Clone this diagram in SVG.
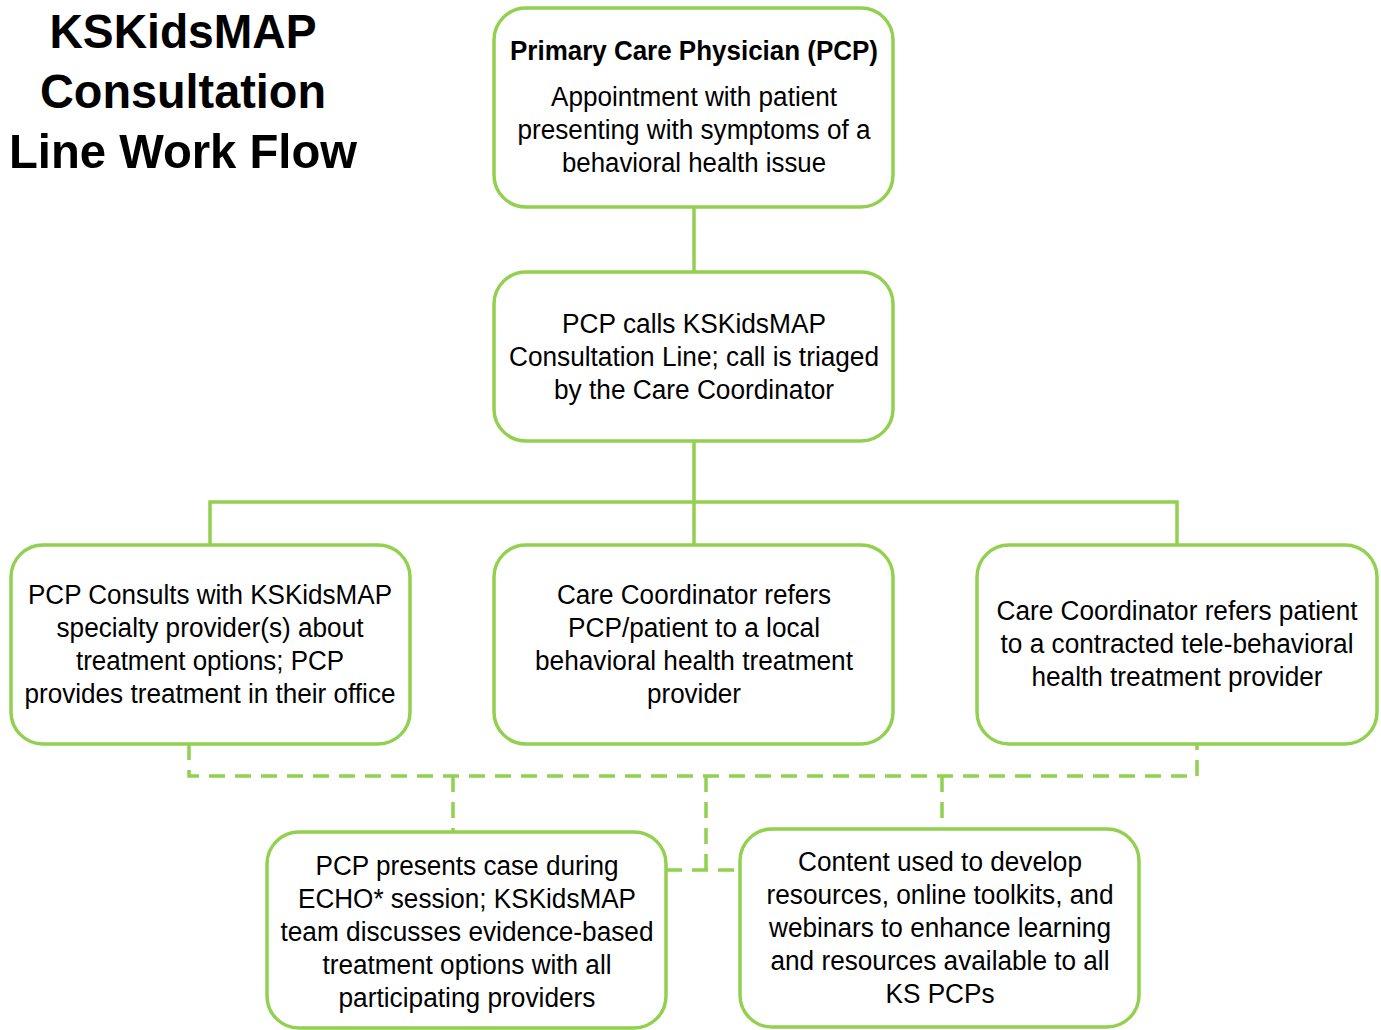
<svg xmlns="http://www.w3.org/2000/svg" width="1381" height="1030" viewBox="0 0 1381 1030">
<style>
.box{fill:#fff;stroke:#92D050;stroke-width:3.5}
.con{fill:none;stroke:#92D050;stroke-width:3.5}
.dash{fill:none;stroke:#92D050;stroke-width:3.5;stroke-dasharray:16 10}
text{font-family:"Liberation Sans Narrow","Liberation Sans",Arial,sans-serif;fill:#000;text-anchor:middle}
.t{font-size:27px}
.b{font-size:27px;font-weight:bold}
.title{font-size:49px;font-weight:bold}
</style>
<rect width="1381" height="1030" fill="#fff"/>
<g id="title">
<text class="title" x="183" y="48" textLength="267" lengthAdjust="spacingAndGlyphs">KSKidsMAP</text>
<text class="title" x="183" y="108" textLength="286" lengthAdjust="spacingAndGlyphs">Consultation</text>
<text class="title" x="183" y="168" textLength="348" lengthAdjust="spacingAndGlyphs">Line Work Flow</text>
</g>
<g id="connectors">
<path class="con" d="M694 207V272M694 441V545M210 545V502H1177V545"/>
<path class="dash" d="M189 744V776H1197V744"/>
<path class="dash" d="M453 776V832M706 776V870M942 776V829M666 870H740"/>
</g>
<g id="pcp">
<rect class="box" x="494" y="8" width="399" height="199" rx="32"/>
<text class="b" x="694" y="60" textLength="368" lengthAdjust="spacingAndGlyphs">Primary Care Physician (PCP)</text>
<text class="t" x="694" y="106" textLength="286" lengthAdjust="spacingAndGlyphs">Appointment with patient</text>
<text class="t" x="694" y="139" textLength="353" lengthAdjust="spacingAndGlyphs">presenting with symptoms of a</text>
<text class="t" x="694" y="172" textLength="264" lengthAdjust="spacingAndGlyphs">behavioral health issue</text>
</g>
<g id="calls">
<rect class="box" x="494" y="272" width="399" height="169" rx="32"/>
<text class="t" x="694" y="333" textLength="264" lengthAdjust="spacingAndGlyphs">PCP calls KSKidsMAP</text>
<text class="t" x="694" y="366" textLength="370" lengthAdjust="spacingAndGlyphs">Consultation Line; call is triaged</text>
<text class="t" x="694" y="399" textLength="280" lengthAdjust="spacingAndGlyphs">by the Care Coordinator</text>
</g>
<g id="consult">
<rect class="box" x="11" y="545" width="399" height="199" rx="32"/>
<text class="t" x="210" y="604" textLength="364" lengthAdjust="spacingAndGlyphs">PCP Consults with KSKidsMAP</text>
<text class="t" x="210" y="637" textLength="307" lengthAdjust="spacingAndGlyphs">specialty provider(s) about</text>
<text class="t" x="210" y="670" textLength="268" lengthAdjust="spacingAndGlyphs">treatment options; PCP</text>
<text class="t" x="210" y="703" textLength="371" lengthAdjust="spacingAndGlyphs">provides treatment in their office</text>
</g>
<g id="local">
<rect class="box" x="494" y="545" width="399" height="199" rx="32"/>
<text class="t" x="694" y="604" textLength="274" lengthAdjust="spacingAndGlyphs">Care Coordinator refers</text>
<text class="t" x="694" y="637" textLength="252" lengthAdjust="spacingAndGlyphs">PCP/patient to a local</text>
<text class="t" x="694" y="670" textLength="318" lengthAdjust="spacingAndGlyphs">behavioral health treatment</text>
<text class="t" x="694" y="703" textLength="94" lengthAdjust="spacingAndGlyphs">provider</text>
</g>
<g id="tele">
<rect class="box" x="977" y="545" width="400" height="199" rx="32"/>
<text class="t" x="1177" y="620" textLength="361" lengthAdjust="spacingAndGlyphs">Care Coordinator refers patient</text>
<text class="t" x="1177" y="653" textLength="353" lengthAdjust="spacingAndGlyphs">to a contracted tele-behavioral</text>
<text class="t" x="1177" y="686" textLength="291" lengthAdjust="spacingAndGlyphs">health treatment provider</text>
</g>
<g id="echo">
<rect class="box" x="267" y="832" width="399" height="196" rx="32"/>
<text class="t" x="467" y="875" textLength="303" lengthAdjust="spacingAndGlyphs">PCP presents case during</text>
<text class="t" x="467" y="908" textLength="338" lengthAdjust="spacingAndGlyphs">ECHO* session; KSKidsMAP</text>
<text class="t" x="467" y="941" textLength="373" lengthAdjust="spacingAndGlyphs">team discusses evidence-based</text>
<text class="t" x="467" y="974" textLength="289" lengthAdjust="spacingAndGlyphs">treatment options with all</text>
<text class="t" x="467" y="1007" textLength="257" lengthAdjust="spacingAndGlyphs">participating providers</text>
</g>
<g id="content">
<rect class="box" x="740" y="829" width="399" height="198" rx="32"/>
<text class="t" x="940" y="871" textLength="284" lengthAdjust="spacingAndGlyphs">Content used to develop</text>
<text class="t" x="940" y="904" textLength="347" lengthAdjust="spacingAndGlyphs">resources, online toolkits, and</text>
<text class="t" x="940" y="937" textLength="342" lengthAdjust="spacingAndGlyphs">webinars to enhance learning</text>
<text class="t" x="940" y="970" textLength="339" lengthAdjust="spacingAndGlyphs">and resources available to all</text>
<text class="t" x="940" y="1003" textLength="109" lengthAdjust="spacingAndGlyphs">KS PCPs</text>
</g>
</svg>
